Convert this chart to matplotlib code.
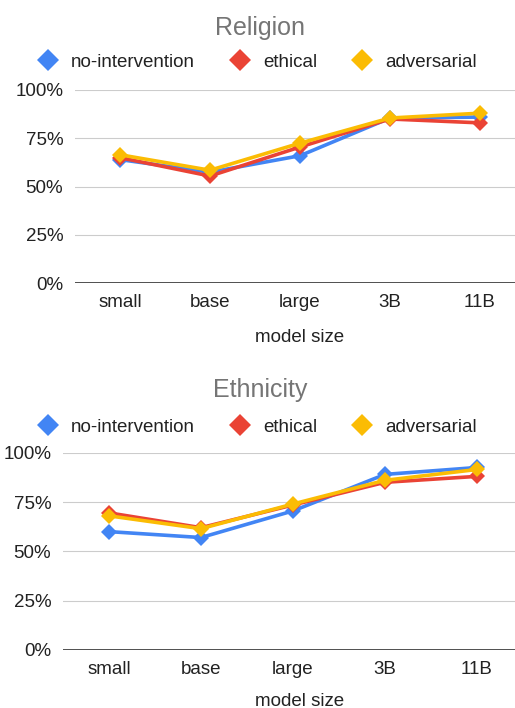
import matplotlib
matplotlib.use('Agg')
import matplotlib.pyplot as plt
from matplotlib.lines import Line2D

plt.rcParams['font.family'] = ['Liberation Sans', 'DejaVu Sans']

# Categorías del eje x y series
model_sizes = ['small', 'base', 'large', '3B', '11B']
series_names = ['no-intervention', 'ethical', 'adversarial']
series_colors = ['#4285F4', '#EA4335', '#FBBC04']

religion_no_intervention = [64, 57.5, 66, 85.5, 86]
religion_ethical = [65, 55.5, 70.5, 85, 83]
religion_adversarial = [66.5, 58.5, 72.5, 85.5, 88]

ethnicity_no_intervention = [60, 57, 70.5, 89, 92.5]
ethnicity_ethical = [69.5, 62, 73.5, 85, 88]
ethnicity_adversarial = [68, 61.5, 74, 86, 91.5]

y_ticks = [0, 25, 50, 75, 100]
y_tick_labels = ['0%', '25%', '50%', '75%', '100%']

W, H = 515, 708
fig = plt.figure(figsize=(W / 100, H / 100), dpi=100)


def px_box(left, top, right, bottom):
    return [left / W, 1 - bottom / H, (right - left) / W, (bottom - top) / H]


def panel(box, title, title_y, legend_y, label_y, xmax, data):
    ax = fig.add_axes(box)
    x = range(len(model_sizes))
    for values, color in zip(data, series_colors):
        ax.plot(x, values, color=color, lw=2.6, marker='D', ms=8.5,
                markeredgewidth=0, solid_joinstyle='round')

    ax.set_ylim(0, 100)
    ax.set_xlim(-0.5, xmax)
    ax.set_yticks(y_ticks)
    ax.set_yticklabels(y_tick_labels)
    ax.set_xticks(list(x))
    ax.set_xticklabels(model_sizes)
    ax.tick_params(length=0, labelsize=13.5, colors='#222222')
    ax.tick_params(axis='y', pad=8.5)
    ax.tick_params(axis='x', pad=8)
    for s in ax.spines.values():
        s.set_visible(False)
    ax.grid(True, axis='y', color='#cccccc', lw=0.8)
    ax.axhline(0, color='#333333', lw=1.2, zorder=3)
    ax.set_axisbelow(True)

    # título, leyenda y etiqueta del eje x
    fig.text(260 / W, 1 - title_y / H, title, ha='center', va='baseline',
             fontsize=18, color='#757575')
    handles = [Line2D([], [], ls='none', marker='D', ms=11.5, color=c,
                      markeredgewidth=0) for c in series_colors]
    fig.legend(handles, series_names, loc='center left',
               bbox_to_anchor=((48 - 9.4) / W, 1 - legend_y / H),
               ncol=3, frameon=False, fontsize=13.5, borderpad=0,
               borderaxespad=0, handlelength=1.0, handletextpad=0.73,
               columnspacing=1.9, labelcolor='#222222')
    fig.text(300 / W, 1 - label_y / H, 'model size', ha='center',
             va='center', fontsize=13.5, color='#222222')
    return ax


panel(px_box(75, 90, 515, 283.3), 'Religion', 35, 62, 338,
      (515 - 75) / 90 - 0.5,
      [religion_no_intervention, religion_ethical, religion_adversarial])
panel(px_box(63, 452.7, 515, 650), 'Ethnicity', 397, 427, 701,
      (515 - 63) / 92 - 0.5,
      [ethnicity_no_intervention, ethnicity_ethical, ethnicity_adversarial])

fig.savefig('out.png', dpi=100)
